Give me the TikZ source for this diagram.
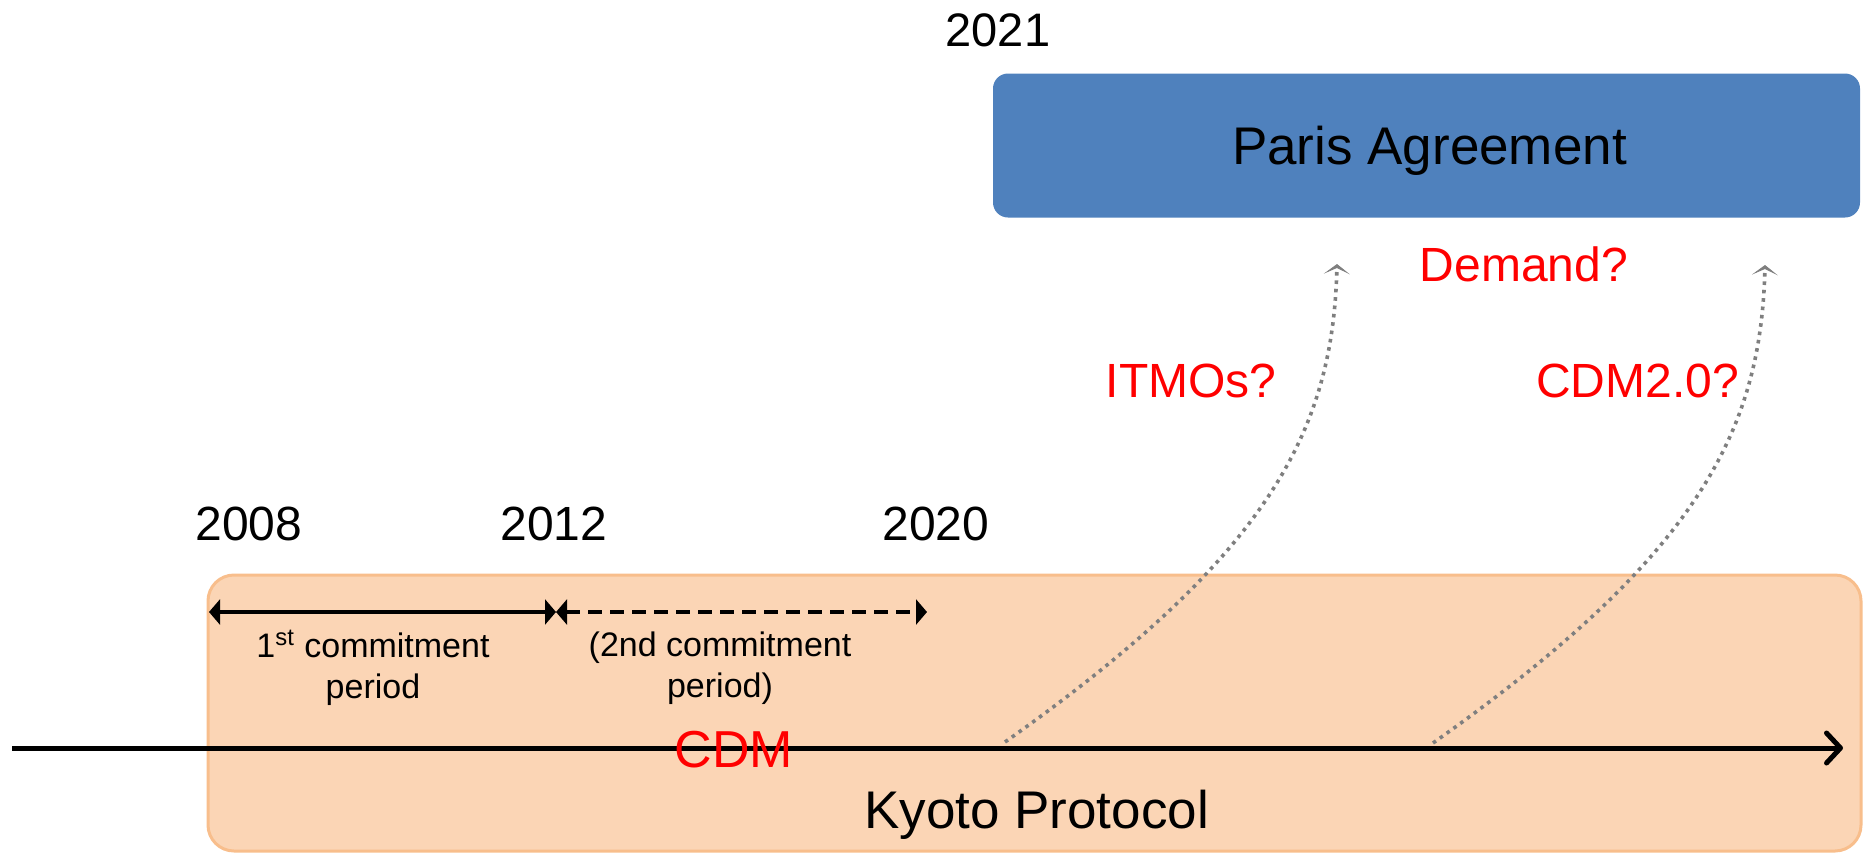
\documentclass[tikz,border=0pt]{standalone}
\usepackage{fontspec}
\setmainfont{Liberation Sans}
\usetikzlibrary{arrows.meta}
\definecolor{parisblue}{HTML}{4F81BD}
\definecolor{kyotofill}{HTML}{FBD5B5}
\definecolor{kyotoedge}{HTML}{F8BE8C}
\definecolor{dotgray}{HTML}{7F7F7F}
\definecolor{labred}{HTML}{FF0000}
\tikzset{
  yearlbl/.style={anchor=base, inner sep=0pt, font=\fontsize{24pt}{28pt}\selectfont},
  biglbl/.style={anchor=base, inner sep=0pt, font=\fontsize{26.5pt}{31pt}\selectfont},
  redlbl/.style={anchor=base, inner sep=0pt, text=labred, font=\fontsize{24pt}{28pt}\selectfont},
  periodlbl/.style={anchor=center, inner sep=0pt, align=center, font=\fontsize{17pt}{20.5pt}\selectfont},
  pbox/.style={rectangle, rounded corners=7.5pt, fill=parisblue, draw=none,
    minimum width=433.5pt, minimum height=72pt, inner sep=0pt, text depth=0pt,
    font=\fontsize{26.5pt}{31pt}\selectfont},
  kbox/.style={rectangle, rounded corners=13pt, fill=kyotofill, draw=kyotoedge,
    line width=1.5pt, minimum width=826.5pt, minimum height=138pt, inner sep=0pt},
  timeline/.style={line width=2.5pt, -{Straight Barb[length=7pt,width=15pt,line cap=round,line join=round]}},
  periodarrow/.style={line width=1.7pt, {Triangle[length=5.5pt,width=12.5pt]}-{Triangle[length=5.5pt,width=12.5pt]}},
  futurearrow/.style={dotgray, line width=1.8pt, dash pattern=on 1.8pt off 2.4pt,
    -{Stealth[length=5pt,width=13pt,inset=3pt]}}
}
\begin{document}
\begin{tikzpicture}[x=0.5pt, y=-0.5pt]
\useasboundingbox (0,0) rectangle (1863,853);

% boxes
\node[kbox] (kyoto) at (1034.5,713) {};
\node[pbox] (paris) at (1426.5,145.5) {\hspace{3pt}Paris Agreement};

% years
\node[yearlbl, font=\fontsize{23.5pt}{28pt}\selectfont] (y2021) at (998,46) {2021};
\node[yearlbl] (y2008) at (249,540) {2008};
\node[yearlbl] (y2012) at (554,540) {2012};
\node[yearlbl] (y2020) at (936,540) {2020};

% commitment periods
\coordinate (p0) at (209,612);
\coordinate (p1) at (556,612);
\coordinate (p2) at (927,612);
\draw[periodarrow] (p0) -- (p1);
\draw[periodarrow, dash pattern=on 7pt off 4pt] (p1) -- (p2);
\node[periodlbl] (cp1) at (373,668) {1\textsuperscript{st} commitment\\period};
\node[periodlbl] (cp2) at (720,668) {(2nd commitment\\period)};

% main timeline
\coordinate (tl0) at (12,748);
\coordinate (tl1) at (1843,748);
\draw[timeline] (tl0) -- (tl1);

% labels in Kyoto box
\node[redlbl, font=\fontsize{26pt}{31pt}\selectfont] (cdm) at (734,767) {CDM};
\node[biglbl] (kyotolbl) at (1036.5,828) {Kyoto Protocol};

% future paths
\coordinate (s1) at (1005,742);
\coordinate (e1) at (1337,264);
\coordinate (s2) at (1433,743);
\coordinate (e2) at (1765,265);
\draw[futurearrow] (s1) .. controls (1270,555) and (1333,430) .. (e1);
\draw[futurearrow] (s2) .. controls (1698,556) and (1761,431) .. (e2);

\node[redlbl] (itmos) at (1191,397) {ITMOs?};
\node[redlbl] (cdm2) at (1637.5,397) {CDM2.0?};
\node[redlbl] (demand) at (1524,281) {Demand?};
\end{tikzpicture}
\end{document}
